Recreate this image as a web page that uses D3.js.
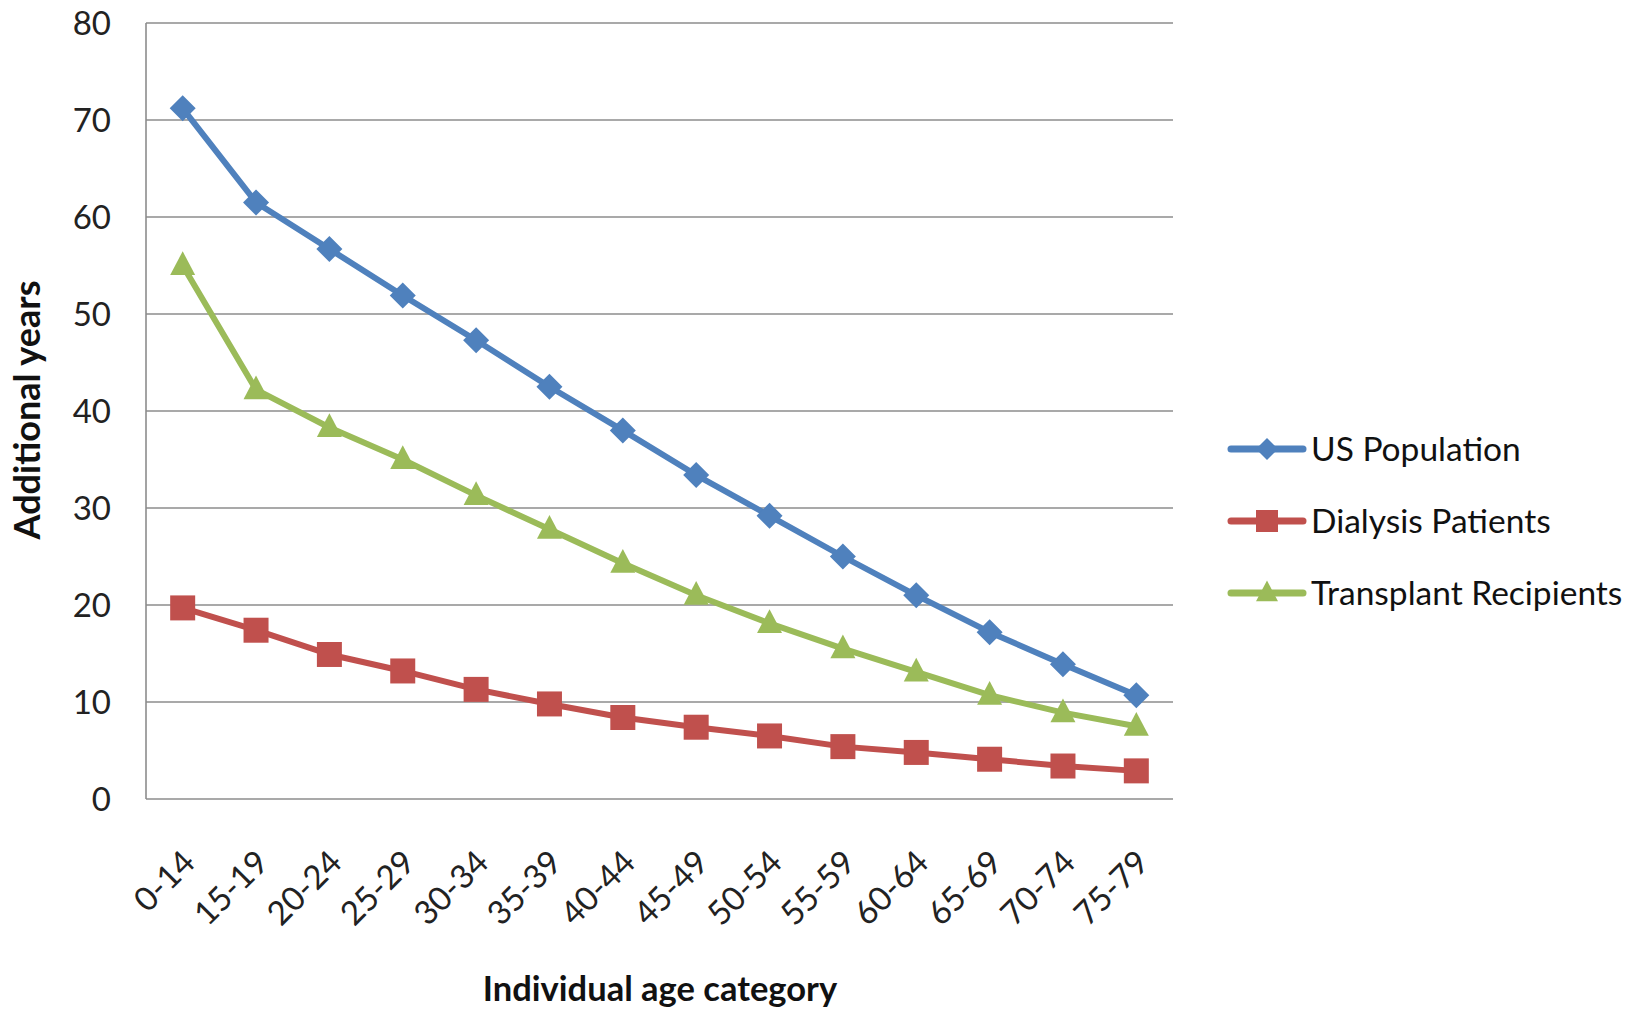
<!DOCTYPE html>
<html>
<head>
<meta charset="utf-8">
<script src="https://cdn.jsdelivr.net/npm/d3@7/dist/d3.min.js"></script>
<style>
  html, body { margin: 0; padding: 0; background: #ffffff; }
  svg { display: block; font-family: Lato, "Open Sans", "Noto Sans", sans-serif; }
</style>
</head>
<body>
<svg id="chart" width="1648" height="1009"></svg>
<script>
// Life expectancy: additional years of life by age group
const ageCategories = ["0-14", "15-19", "20-24", "25-29", "30-34", "35-39", "40-44",
                       "45-49", "50-54", "55-59", "60-64", "65-69", "70-74", "75-79"];
const usPopulation = [71.2, 61.5, 56.7, 51.9, 47.3, 42.5, 38.0, 33.4, 29.2, 25.0, 21.0, 17.2, 13.9, 10.7];
const dialysisPatients = [19.7, 17.4, 14.9, 13.2, 11.3, 9.8, 8.4, 7.4, 6.5, 5.4, 4.8, 4.1, 3.4, 2.9];
const transplantRecipients = [55.0, 42.2, 38.3, 35.0, 31.3, 27.8, 24.3, 21.0, 18.1, 15.5, 13.1, 10.7, 8.9, 7.5];
const yTicks = [0, 10, 20, 30, 40, 50, 60, 70, 80];
const seriesNames = ["US Population", "Dialysis Patients", "Transplant Recipients"];

const series = [
  { name: seriesNames[0], values: usPopulation, color: "#4F81BD", symbol: "diamond" },
  { name: seriesNames[1], values: dialysisPatients, color: "#C0504D", symbol: "square" },
  { name: seriesNames[2], values: transplantRecipients, color: "#9BBB59", symbol: "triangle" }
];

const svg = d3.select("#chart");
const plot = { left: 146, right: 1173, top: 23, bottom: 799 };

const x = d3.scaleBand().domain(ageCategories).range([plot.left, plot.right]);
const y = d3.scaleLinear().domain([0, 80]).range([plot.bottom, plot.top]);
const cx = d => x(d) + x.bandwidth() / 2;

// Horizontal gridlines
svg.append("g")
  .selectAll("line")
  .data(yTicks)
  .join("line")
  .attr("x1", plot.left).attr("x2", plot.right)
  .attr("y1", d => y(d)).attr("y2", d => y(d))
  .attr("stroke", "#8c8c8c")
  .attr("stroke-width", 1.6);

// Left axis line
svg.append("line")
  .attr("x1", plot.left).attr("x2", plot.left)
  .attr("y1", y(80)).attr("y2", y(0))
  .attr("stroke", "#8c8c8c")
  .attr("stroke-width", 1.6);

// Y tick labels
const yAxis = d3.axisLeft(y).tickValues(yTicks).tickSize(0).tickPadding(0);
const gy = svg.append("g").attr("transform", `translate(${plot.left - 35},0)`).call(yAxis);
gy.select(".domain").remove();
gy.selectAll("text")
  .attr("font-size", 33)
  .attr("font-family", "Lato, sans-serif")
  .attr("fill", "#222")
  .attr("dy", "0.36em");

// X tick labels, rotated
const gx = svg.append("g");
gx.selectAll("text")
  .data(ageCategories)
  .join("text")
  .attr("transform", d => `translate(${cx(d) + 6},${plot.bottom + 57}) rotate(-45)`)
  .attr("text-anchor", "end")
  .attr("dy", "0.36em")
  .attr("font-size", 33)
  .attr("fill", "#222")
  .text(d => d);

// Axis titles
svg.append("text")
  .attr("transform", `translate(40,410) rotate(-90)`)
  .attr("text-anchor", "middle")
  .attr("font-size", 36)
  .attr("font-weight", "bold")
  .attr("fill", "#111")
  .text("Additional years");

svg.append("text")
  .attr("x", 660).attr("y", 1001)
  .attr("text-anchor", "middle")
  .attr("font-size", 34.5)
  .attr("font-weight", "bold")
  .attr("fill", "#111")
  .text("Individual age category");

// Marker paths
function markerPath(kind, s) {
  if (kind === "diamond") return `M0,${-s / 2}L${s / 2},0L0,${s / 2}L${-s / 2},0Z`;
  if (kind === "square") return `M${-s / 2},${-s / 2}H${s / 2}V${s / 2}H${-s / 2}Z`;
  const h = s * 0.95;
  return `M0,${-h * 0.6}L${s / 2},${h * 0.4}L${-s / 2},${h * 0.4}Z`;
}
const markerSize = { diamond: 26, square: 25, triangle: 25 };

const line = d3.line()
  .x((v, i) => cx(ageCategories[i]))
  .y(v => y(v));

// Series lines and markers
const gs = svg.append("g");
series.forEach(s => {
  const g = gs.append("g");
  g.append("path")
    .attr("d", line(s.values))
    .attr("fill", "none")
    .attr("stroke", s.color)
    .attr("stroke-width", 6)
    .attr("stroke-linejoin", "round")
    .attr("stroke-linecap", "round");
  g.selectAll("path.mk")
    .data(s.values)
    .join("path")
    .attr("class", "mk")
    .attr("transform", (v, i) => `translate(${cx(ageCategories[i])},${y(v)})`)
    .attr("d", markerPath(s.symbol, markerSize[s.symbol]))
    .attr("fill", s.color);
});

// Legend
const legendRows = [449, 521, 593];
const lg = svg.append("g");
series.forEach((s, i) => {
  const row = lg.append("g").attr("transform", `translate(0,${legendRows[i]})`);
  row.append("line")
    .attr("x1", 1231).attr("x2", 1303)
    .attr("y1", 0).attr("y2", 0)
    .attr("stroke", s.color)
    .attr("stroke-width", 7)
    .attr("stroke-linecap", "round");
  row.append("path")
    .attr("transform", "translate(1267,0)")
    .attr("d", markerPath(s.symbol, 22))
    .attr("fill", s.color);
  row.append("text")
    .attr("x", 1311).attr("y", 0)
    .attr("dy", "0.36em")
    .attr("font-size", 33.5)
    .attr("fill", "#111")
    .text(s.name);
});
</script>
</body>
</html>
